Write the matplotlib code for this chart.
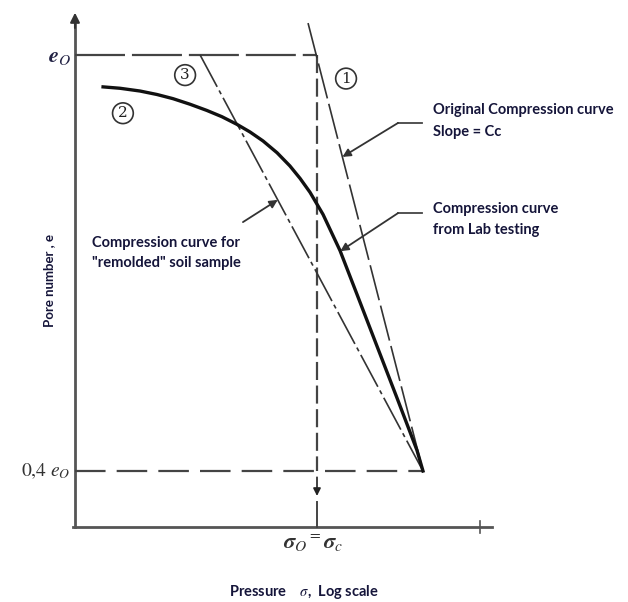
import numpy as np
import matplotlib
matplotlib.use("Agg")
import matplotlib.pyplot as plt

plt.rcParams['lines.scale_dashes'] = False
plt.rcParams['mathtext.fontset'] = 'stix'

# x = log of pressure (sigma_c at 1.0), y = pore number as fraction of e0
LOG_SIGMA_C = 1.0
E0 = 1.0
E_LOW = 0.4
LOG_END = 1.438           # where all three curves meet at 0.4 e0

# curve 1: original (field) compression curve, slope Cc
LINE1_X = [0.963, LOG_END]
LINE1_Y = [1.046, E_LOW]

# curve 3: remolded sample
LINE3_X = [0.517, LOG_END]
LINE3_Y = [E0, E_LOW]

# curve 2: lab testing
LAB_X = [0.116, 0.186, 0.269, 0.339, 0.405, 0.475, 0.545, 0.607, 0.669, 0.723,
         0.777, 0.835, 0.888, 0.930, 0.971, 1.025, 1.095, 1.165, 1.248, 1.331,
         1.413, LOG_END]
LAB_Y = [0.954, 0.952, 0.948, 0.943, 0.937, 0.929, 0.920, 0.911, 0.900, 0.889,
         0.876, 0.859, 0.840, 0.822, 0.802, 0.770, 0.718, 0.655, 0.580, 0.505,
         0.430, E_LOW]

X_AXIS_Y = 0.319
Y_AXIS_TOP = 1.065
X_AXIS_END = 1.723

TXT = '#15153a'
FONT = 'Lato'

fig = plt.figure(figsize=(6.28, 6.02), dpi=100)
ax = fig.add_axes([0, 0, 1, 1])
ax.set_xlim(-0.3099, 2.2851)
ax.set_ylim(0.2111, 1.0793)
ax.axis('off')

# axes
ax.plot([0, 0], [X_AXIS_Y, Y_AXIS_TOP - 0.02], color='#555555', lw=2)
ax.annotate('', xy=(0, Y_AXIS_TOP), xytext=(0, Y_AXIS_TOP - 0.03),
            arrowprops=dict(arrowstyle='-|>', color='#333333', lw=1.5,
                            mutation_scale=14))
ax.plot([-0.008, X_AXIS_END], [X_AXIS_Y, X_AXIS_Y], color='#555555', lw=2)
ax.plot([1.674, 1.674], [X_AXIS_Y - 0.009, X_AXIS_Y + 0.009], color='#555555', lw=1.2)

# reference dashed lines
ax.plot([0, LOG_SIGMA_C], [E0, E0], color='#444444', lw=1.6, dashes=(36, 5))
ax.plot([0, LOG_END], [E_LOW, E_LOW], color='#444444', lw=1.6, dashes=(22, 8))
ax.plot([LOG_SIGMA_C, LOG_SIGMA_C], [E0, E_LOW], color='#444444', lw=1.6, dashes=(13, 4))
ax.plot([LOG_SIGMA_C, LOG_SIGMA_C], [0.355, X_AXIS_Y], color='#444444', lw=1.4)
ax.annotate('', xy=(LOG_SIGMA_C, 0.36), xytext=(LOG_SIGMA_C, 0.395),
            arrowprops=dict(arrowstyle='-|>', color='#222222', lw=1.2,
                            mutation_scale=11))

# curves
ax.plot(LINE1_X, LINE1_Y, color='#333333', lw=1.2, dashes=(26, 4))
ax.plot(LINE3_X, LINE3_Y, color='#333333', lw=1.2, dashes=(26, 3, 3, 3))
ax.plot(LAB_X, LAB_Y, color='#111111', lw=2.4, solid_joinstyle='round')

# circled numbers
for lab, x, y in [('1', 1.12, 0.966), ('2', 0.198, 0.916), ('3', 0.455, 0.971)]:
    ax.text(x, y, lab, ha='center', va='center', fontsize=11,
            family='DejaVu Serif', color='#222222',
            bbox=dict(boxstyle='circle,pad=0.22', fc='white', ec='#333333', lw=1.2))

# axis labels
ax.text(-0.018, 0.997, r'$\mathbfit{e}_{\mathit{O}}$', ha='right', va='center',
        fontsize=16, color='#222244')
ax.text(-0.02, E_LOW, r'0,4 $e_O$', ha='right', va='center', fontsize=14,
        family='STIXGeneral', color='#333333')
ax.text(0.985, 0.295, r'$\mathbfit{\sigma}_{O}{}^{=}\mathbfit{\sigma}_{c}$', ha='center',
        va='center', fontsize=16, color='#333333')
ax.text(0.946, 0.226, r'Pressure    $\sigma$,  Log scale', ha='center', va='center',
        fontsize=10.5, family=FONT, weight='bold', color=TXT)
ax.text(-0.107, 0.675, 'Pore number , e', ha='center', va='center', rotation=90,
        fontsize=9.5, family=FONT, weight='bold', color=TXT)

# annotations
def leader(tip_y, xs, ys, knee, end):
    tip_x = np.interp(tip_y, ys[::-1], xs[::-1])
    ax.plot([end[0], knee[0]], [end[1], knee[1]], color='#444444', lw=1.3)
    ax.annotate('', xy=(tip_x, tip_y), xytext=knee,
                arrowprops=dict(arrowstyle='-|>', color='#333333', lw=1.3,
                                mutation_scale=12, shrinkA=0, shrinkB=0))

leader(0.853, LINE1_X, LINE1_Y, (1.335, 0.902), (1.434, 0.902))
ax.text(1.479, 0.921, 'Original Compression curve', ha='left', va='center',
        fontsize=10.5, family=FONT, color=TXT, fontweight='bold')
ax.text(1.479, 0.889, 'Slope = Cc', ha='left', va='center',
        fontsize=10.5, family=FONT, color=TXT, fontweight='bold')

leader(0.717, LAB_X, LAB_Y, (1.335, 0.772), (1.434, 0.772))
ax.text(1.479, 0.778, 'Compression curve', ha='left', va='center',
        fontsize=10.5, family=FONT, color=TXT, fontweight='bold')
ax.text(1.479, 0.748, 'from Lab testing', ha='left', va='center',
        fontsize=10.5, family=FONT, color=TXT, fontweight='bold')

tip_y = 0.791
ax.annotate('', xy=(np.interp(tip_y, LINE3_Y[::-1], LINE3_X[::-1]), tip_y),
            xytext=(0.694, 0.759),
            arrowprops=dict(arrowstyle='-|>', color='#333333', lw=1.3,
                            mutation_scale=12, shrinkA=0, shrinkB=0))
ax.text(0.07, 0.729, 'Compression curve for', ha='left', va='center',
        fontsize=10.5, family=FONT, color=TXT, fontweight='bold')
ax.text(0.07, 0.700, '"remolded" soil sample', ha='left', va='center',
        fontsize=10.5, family=FONT, color=TXT, fontweight='bold')

fig.savefig('out.png', dpi=100)
